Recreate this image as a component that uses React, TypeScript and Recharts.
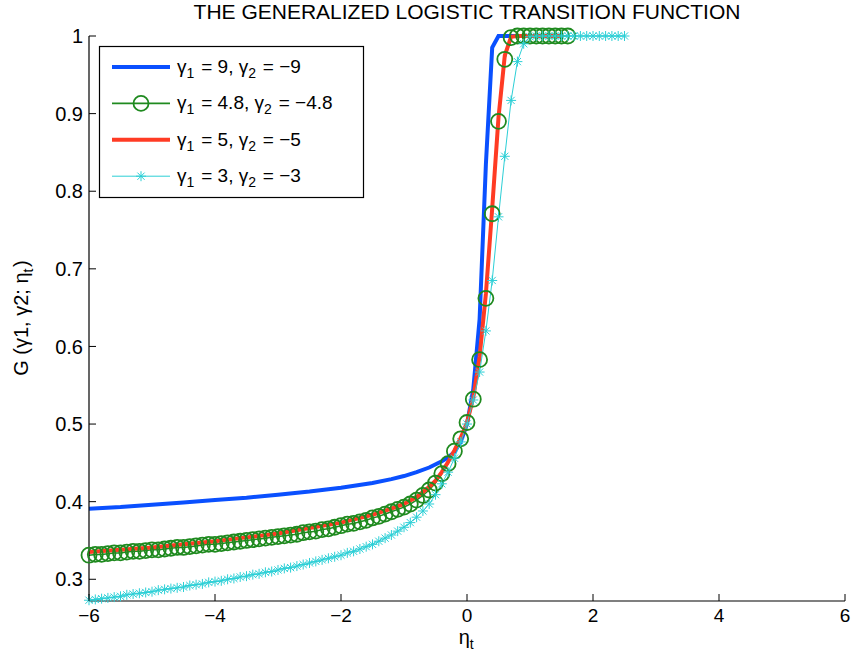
import React from 'react';
import { LineChart, Line, XAxis, YAxis } from 'recharts';

const FONT = '"Liberation Sans", Arial, Helvetica, sans-serif';
const BLUE = '#0a50ff';
const GREEN = '#1f8a1f';
const RED = '#ff3b24';
const CYAN = '#2ccfd6';

const xTicks = [-6, -4, -2, 0, 2, 4, 6];
const yTicks = [0.3, 0.4, 0.5, 0.6, 0.7, 0.8, 0.9, 1];

// gamma1 = 9 (line only)
const etaBlue = [-6, -5.5, -5, -4.5, -4, -3.5, -3, -2.5, -2, -1.5, -1.2, -1, -0.8, -0.6, -0.4, -0.3, -0.2, -0.1, 0, 0.1, 0.2, 0.3, 0.4, 0.5, 0.6, 0.8];
const gBlue = [0.391, 0.393, 0.396, 0.399, 0.402, 0.405, 0.409, 0.413, 0.418, 0.424, 0.429, 0.433, 0.438, 0.444, 0.452, 0.457, 0.464, 0.477, 0.5, 0.545, 0.635, 0.835, 0.985, 1, 1, 1];

// gamma1 = 5 (line only)
const etaRed = [-6, -5.5, -5, -4.5, -4, -3.5, -3, -2.5, -2, -1.5, -1.2, -1, -0.8, -0.6, -0.5, -0.4, -0.3, -0.2, -0.1, 0, 0.1, 0.2, 0.3, 0.4, 0.5, 0.6, 0.7, 0.8, 1, 1.2, 1.5];
const gRed = [0.335, 0.338, 0.341, 0.345, 0.349, 0.354, 0.359, 0.366, 0.373, 0.383, 0.391, 0.397, 0.406, 0.419, 0.427, 0.438, 0.451, 0.466, 0.482, 0.502, 0.534, 0.587, 0.668, 0.778, 0.895, 0.975, 0.999, 1, 1, 1, 1];

// markers are sampled every 0.1 in eta
const grid = (from: number, to: number) => {
  const out: number[] = [];
  for (let k = Math.round(from * 10); k <= Math.round(to * 10); k++) out.push(k / 10);
  return out;
};

// gamma1 = 4.8, eta -6 .. 1.6
const gGreen = [
  0.331, 0.332, 0.332, 0.333, 0.334, 0.334, 0.335, 0.336, 0.336, 0.337,
  0.338, 0.338, 0.339, 0.340, 0.341, 0.341, 0.342, 0.343, 0.344, 0.345,
  0.345, 0.346, 0.347, 0.348, 0.349, 0.350, 0.351, 0.352, 0.353, 0.354,
  0.355, 0.356, 0.357, 0.358, 0.360, 0.361, 0.362, 0.364, 0.365, 0.367,
  0.369, 0.371, 0.372, 0.374, 0.376, 0.379, 0.381, 0.384, 0.387, 0.390,
  0.393, 0.397, 0.402, 0.408, 0.415, 0.424, 0.436, 0.449, 0.465, 0.481,
  0.502, 0.532, 0.583, 0.662, 0.771, 0.890, 0.970, 0.998, 1, 1,
  1, 1, 1, 1, 1, 1, 1,
];

// gamma1 = 3, eta -6 .. 2.5
const gCyan = [
  0.273, 0.274, 0.275, 0.276, 0.277, 0.278, 0.280, 0.281, 0.282, 0.283,
  0.284, 0.286, 0.287, 0.288, 0.289, 0.290, 0.292, 0.293, 0.294, 0.296,
  0.297, 0.298, 0.300, 0.301, 0.303, 0.304, 0.306, 0.307, 0.309, 0.310,
  0.312, 0.314, 0.315, 0.317, 0.319, 0.321, 0.323, 0.325, 0.327, 0.329,
  0.331, 0.334, 0.336, 0.339, 0.342, 0.345, 0.349, 0.353, 0.357, 0.362,
  0.367, 0.373, 0.380, 0.388, 0.397, 0.409, 0.423, 0.438, 0.456, 0.477,
  0.500, 0.531, 0.567, 0.620, 0.685, 0.767, 0.845, 0.917, 0.967, 0.990,
  0.999, 1, 1, 1, 1, 1, 1, 1, 1, 1,
  1, 1, 1, 1, 1, 1,
];

const toRows = (xs: number[], ys: number[]) => xs.map((x, i) => ({ x, v: ys[i] }));
const blueData = toRows(etaBlue, gBlue);
const redData = toRows(etaRed, gRed);
const greenData = toRows(grid(-6, 1.6), gGreen);
const cyanData = toRows(grid(-6, 2.5), gCyan);

const fmt = (v: number) => (v < 0 ? '\u2212' + Math.abs(v) : String(v));
const TICK = 7;

const Star = ({ cx, cy, color = CYAN, s = 5 }: any) => {
  const d = s * 0.72;
  return (
    <g stroke={color} strokeWidth={1}>
      <line x1={cx - s} y1={cy} x2={cx + s} y2={cy} />
      <line x1={cx} y1={cy - s} x2={cx} y2={cy + s} />
      <line x1={cx - d} y1={cy - d} x2={cx + d} y2={cy + d} />
      <line x1={cx - d} y1={cy + d} x2={cx + d} y2={cy - d} />
    </g>
  );
};

const bottomTick = ({ x, y, payload }: any) => (
  <g>
    <line x1={x} x2={x} y1={y} y2={y - TICK} stroke="#000" />
    <text x={x} y={y + 21} textAnchor="middle" fontSize={19} fontFamily={FONT} fill="#000">
      {fmt(payload.value)}
    </text>
  </g>
);
const topTick = ({ x, y }: any) => <line x1={x} x2={x} y1={y} y2={y + TICK} stroke="#000" />;
const leftTick = ({ x, y, payload }: any) => (
  <g>
    <line x1={x} x2={x + TICK} y1={y} y2={y} stroke="#000" />
    <text x={x - 6} y={y} dy="0.36em" textAnchor="end" fontSize={20} fontFamily={FONT} fill="#000">
      {fmt(payload.value)}
    </text>
  </g>
);
const rightTick = ({ x, y }: any) => <line x1={x} x2={x - TICK} y1={y} y2={y} stroke="#000" />;

const legendRows = [
  { a: '9', b: '\u22129', color: BLUE, width: 4, mark: 'none' },
  { a: '4.8', b: '\u22124.8', color: GREEN, width: 1.8, mark: 'circle' },
  { a: '5', b: '\u22125', color: RED, width: 4, mark: 'none' },
  { a: '3', b: '\u22123', color: CYAN, width: 1, mark: 'star' },
];

const Sub = ({ children }: any) => (
  <>
    <tspan fontSize={14} dy={5}>{children}</tspan>
    <tspan dy={-5}>{'\u200a'}</tspan>
  </>
);

export default function App() {
  return (
    <div style={{ position: 'absolute', left: 0, top: 0, width: 854, height: 660, background: '#fff' }}>
      <LineChart width={854} height={660} margin={{ top: 36, right: 9, left: 0, bottom: 0 }}>
        <XAxis
          xAxisId="b"
          type="number"
          dataKey="x"
          domain={[-6, 6]}
          ticks={xTicks}
          height={59}
          tickSize={0}
          tickMargin={0}
          tickLine={false}
          axisLine={{ stroke: '#000', strokeWidth: 1.2 }}
          tick={bottomTick}
          interval={0}
        />
        <XAxis
          xAxisId="t"
          orientation="top"
          type="number"
          dataKey="x"
          domain={[-6, 6]}
          ticks={xTicks}
          height={0}
          tickSize={0}
          tickMargin={0}
          tickLine={false}
          axisLine={{ stroke: '#000', strokeWidth: 1.2 }}
          tick={topTick}
          interval={0}
        />
        <YAxis
          yAxisId="l"
          type="number"
          domain={[0.272, 1]}
          ticks={yTicks}
          width={89}
          tickSize={0}
          tickMargin={0}
          tickLine={false}
          axisLine={{ stroke: '#000', strokeWidth: 1.2 }}
          tick={leftTick}
          interval={0}
        />
        <YAxis
          yAxisId="r"
          orientation="right"
          type="number"
          domain={[0.272, 1]}
          ticks={yTicks}
          width={0}
          tickSize={0}
          tickMargin={0}
          tickLine={false}
          axisLine={{ stroke: '#000', strokeWidth: 1.2 }}
          tick={rightTick}
          interval={0}
        />
        <Line xAxisId="b" yAxisId="l" data={blueData} dataKey="v" type="linear" stroke={BLUE} strokeWidth={4} dot={false} activeDot={false} isAnimationActive={false} />
        <Line
          xAxisId="b"
          yAxisId="l"
          data={greenData}
          dataKey="v"
          type="linear"
          stroke={GREEN}
          strokeWidth={1.5}
          dot={{ r: 7.5, stroke: GREEN, strokeWidth: 1.8, fill: 'none' }}
          activeDot={false}
          isAnimationActive={false}
        />
        <Line xAxisId="b" yAxisId="l" data={redData} dataKey="v" type="linear" stroke={RED} strokeWidth={4} dot={false} activeDot={false} isAnimationActive={false} />
        <Line
          xAxisId="b"
          yAxisId="l"
          data={cyanData}
          dataKey="v"
          type="linear"
          stroke={CYAN}
          strokeWidth={1}
          dot={(p: any) => <Star key={`s-${p.index}`} cx={p.cx} cy={p.cy} />}
          activeDot={false}
          isAnimationActive={false}
        />
      </LineChart>

      <svg width={854} height={660} style={{ position: 'absolute', left: 0, top: 0, pointerEvents: 'none' }} fontFamily={FONT} fill="#000">
        <text x={467} y={19} textAnchor="middle" fontSize={21}>
          THE GENERALIZED LOGISTIC TRANSITION FUNCTION
        </text>
        <text x={467} y={644} textAnchor="middle" fontSize={20}>
          η<Sub>t</Sub>
        </text>
        <text transform="translate(28 318) rotate(-90)" textAnchor="middle" fontSize={20}>
          G (γ1, γ2; η<Sub>t</Sub>)
        </text>

        <rect x={99.5} y={46.5} width={264} height={151} fill="#fff" stroke="#000" strokeWidth={1.2} />
        {legendRows.map((r, i) => {
          const cy = 67 + i * 36.4;
          return (
            <g key={i}>
              <line x1={112} x2={170} y1={cy} y2={cy} stroke={r.color} strokeWidth={r.width} />
              {r.mark === 'circle' && <circle cx={141} cy={cy} r={7.5} fill="none" stroke={r.color} strokeWidth={1.8} />}
              {r.mark === 'star' && <Star cx={141} cy={cy} color={r.color} />}
              <text x={177} y={cy + 6} fontSize={19}>
                γ<Sub>1</Sub> = {r.a}, γ<Sub>2</Sub> = {r.b}
              </text>
            </g>
          );
        })}
      </svg>
    </div>
  );
}
